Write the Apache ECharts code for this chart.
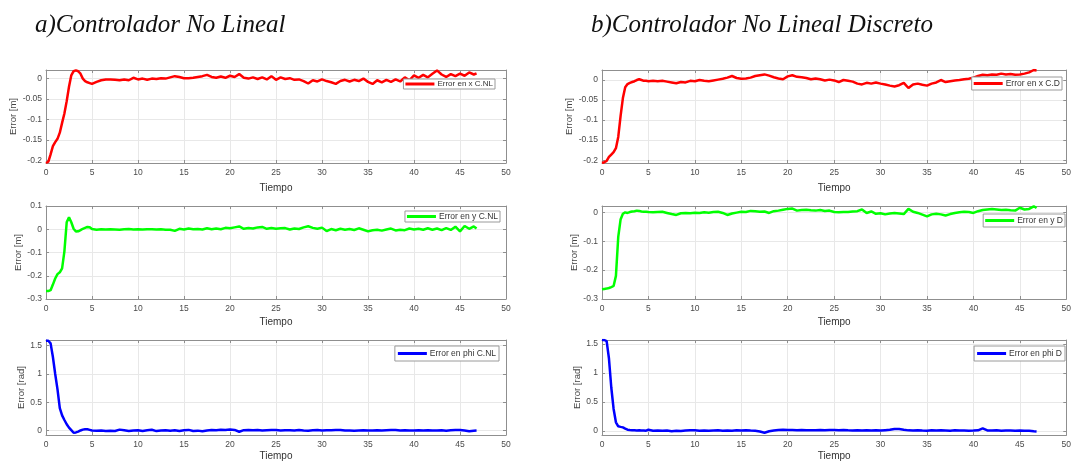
<!DOCTYPE html>
<html>
<head>
<meta charset="utf-8">
<script src="https://cdn.jsdelivr.net/npm/echarts@6/dist/echarts.min.js"></script>
<style>
html,body{margin:0;padding:0;background:#fff;}
#c{width:1074px;height:462px;}
</style>
</head>
<body>
<div id="c"></div>
<script>
// ---- data ----
const T = [0,0.25,0.5,0.75,1,1.25,1.5,1.75,2,2.25,2.5,2.75,3,3.25,3.5,3.75,4,4.25,4.5,4.75,5,
5.5,6,6.5,7,7.5,8,8.5,9,9.5,10,
10.5,11,11.5,12,12.5,13,13.5,14,14.5,15,
15.5,16,16.5,17,17.5,18,18.5,19,19.5,20,
20.5,21,21.5,22,22.5,23,23.5,24,24.5,25,
25.5,26,26.5,27,27.5,28,28.5,29,29.5,30,
30.5,31,31.5,32,32.5,33,33.5,34,34.5,35,
35.5,36,36.5,37,37.5,38,38.5,39,39.5,40,
40.5,41,41.5,42,42.5,43,43.5,44,44.5,45,
45.5,46,46.5,46.8];

const errXNL = [-0.206,-0.203,-0.185,-0.165,-0.155,-0.147,-0.132,-0.108,-0.085,-0.055,-0.02,0.008,0.018,0.02,0.018,0.012,0.0,-0.006,-0.009,-0.011,-0.013,
-0.008,-0.004,-0.002,-0.002,-0.003,-0.004,-0.002,-0.004,0.002,-0.002,
0.000,-0.003,0.000,-0.001,0.001,0.000,0.003,0.006,0.004,0.001,
0.001,0.002,0.004,0.006,0.009,0.004,0.002,0.005,0.002,0.007,
0.004,0.011,0.002,0.000,0.003,-0.001,0.003,-0.002,0.006,-0.003,
0.003,-0.001,0.001,-0.003,-0.002,-0.006,-0.012,-0.004,-0.007,-0.002,
-0.006,-0.009,-0.013,-0.006,-0.003,-0.007,-0.003,-0.006,0.000,-0.008,
-0.013,-0.004,-0.009,-0.003,-0.008,-0.002,-0.007,0.003,-0.004,0.008,
0.002,0.009,0.003,0.012,0.020,0.010,0.004,0.011,0.006,0.012,
0.007,0.015,0.010,0.013];

const errXD = [-0.207,-0.205,-0.202,-0.192,-0.186,-0.180,-0.170,-0.142,-0.090,-0.045,-0.018,-0.010,-0.007,-0.005,-0.003,0.000,0.002,0.000,-0.002,-0.002,-0.003,
-0.002,-0.003,-0.002,-0.004,-0.006,-0.008,-0.005,-0.006,-0.002,-0.003,
0.000,-0.002,-0.003,-0.001,0.001,0.003,0.006,0.010,0.005,0.003,
0.004,0.006,0.010,0.012,0.014,0.011,0.007,0.004,0.002,0.009,
0.012,0.008,0.007,0.005,0.002,0.004,0.002,-0.001,0.001,-0.001,
-0.005,0.000,-0.002,-0.004,-0.009,-0.011,-0.007,-0.009,-0.006,-0.009,
-0.011,-0.014,-0.016,-0.013,-0.007,-0.020,-0.011,-0.009,-0.012,-0.014,
-0.009,-0.006,0.000,-0.005,-0.003,-0.001,0.000,0.002,0.003,0.006,
0.010,0.013,0.012,0.014,0.013,0.016,0.014,0.015,0.013,0.014,
0.016,0.019,0.025,0.024];

const errYNL = [-0.266,-0.266,-0.262,-0.238,-0.212,-0.193,-0.185,-0.168,-0.095,0.030,0.052,0.030,0.002,-0.010,-0.009,-0.004,0.002,0.006,0.010,0.009,0.001,
-0.002,0.000,-0.001,0.000,-0.001,-0.002,0.000,0.001,-0.001,0.000,
-0.001,0.000,0.000,-0.001,0.000,-0.002,-0.002,-0.007,0.002,-0.001,
0.003,0.000,0.001,-0.001,0.004,0.000,0.003,0.000,0.006,0.004,
0.008,0.012,0.002,0.005,0.003,0.008,0.010,0.002,0.005,0.002,
0.004,0.005,-0.001,0.003,0.001,0.008,0.013,0.006,0.002,0.007,
-0.008,0.001,-0.004,0.002,-0.002,0.001,-0.003,0.004,-0.002,-0.009,
-0.004,-0.002,-0.006,-0.001,0.003,-0.005,-0.002,-0.004,0.003,-0.001,
0.002,-0.002,0.004,-0.002,0.003,-0.004,0.005,-0.003,0.011,-0.009,
0.014,0.002,0.012,0.003];

const errYD = [-0.266,-0.265,-0.264,-0.262,-0.259,-0.255,-0.220,-0.085,-0.025,-0.005,0.000,-0.002,0.001,0.003,0.004,0.006,0.005,0.003,0.002,0.002,0.001,
0.000,0.001,0.002,-0.002,-0.006,-0.009,-0.003,-0.002,-0.003,-0.001,
-0.002,0.000,-0.001,0.001,0.002,-0.002,-0.009,-0.004,-0.001,0.002,
0.001,0.005,0.004,0.002,0.003,-0.002,0.004,0.006,0.009,0.012,
0.013,0.006,0.008,0.009,0.007,0.006,0.008,0.005,0.006,0.001,
0.000,0.001,0.001,0.003,0.004,0.010,-0.002,0.003,-0.005,-0.003,
-0.007,-0.004,-0.002,-0.004,-0.006,0.012,0.002,-0.002,-0.008,-0.014,
-0.007,-0.005,-0.007,-0.011,-0.006,-0.002,0.000,0.002,0.001,-0.002,
0.004,0.008,0.010,0.012,0.010,0.008,0.009,0.007,0.006,0.016,
0.010,0.012,0.021,0.015];

const errPhiNL = [1.587,1.587,1.540,1.300,1.000,0.730,0.400,0.270,0.190,0.115,0.055,0.010,-0.035,-0.030,-0.015,0.005,0.020,0.028,0.025,0.015,0.005,
0.000,0.005,-0.005,0.002,-0.004,0.020,0.008,-0.005,0.005,0.010,
-0.003,0.008,0.018,-0.006,0.004,0.010,0.002,0.008,-0.004,0.010,
0.015,-0.005,0.002,-0.008,0.006,0.015,0.010,0.018,0.012,0.020,
0.015,-0.018,0.010,0.015,0.008,0.012,0.005,0.010,0.015,0.012,
0.005,0.010,0.008,0.003,0.012,0.006,0.002,0.008,0.012,0.005,
0.010,0.008,0.012,0.015,0.004,0.006,0.002,0.005,0.008,0.003,
0.006,0.010,0.004,0.008,0.012,0.015,0.006,0.008,0.003,0.005,
0.010,0.004,0.008,0.003,0.006,0.010,0.002,0.008,0.012,0.015,
0.004,-0.008,0.000,0.003];

const errPhiD = [1.570,1.570,1.550,1.250,0.750,0.380,0.150,0.080,0.070,0.062,0.040,0.022,0.015,0.012,0.010,0.008,0.010,0.006,0.009,0.005,0.020,
0.004,0.008,0.002,0.006,-0.005,0.003,-0.002,0.006,0.010,0.012,
0.004,0.008,0.002,0.006,0.010,0.004,0.008,0.003,0.012,0.006,
0.014,0.008,0.003,-0.010,-0.030,-0.005,0.008,0.015,0.020,0.018,
0.015,0.012,0.016,0.010,0.014,0.012,0.015,0.010,0.016,0.018,
0.012,0.015,0.010,0.006,0.012,0.008,0.010,0.006,0.012,0.008,
0.014,0.020,0.035,0.032,0.020,0.010,0.006,0.012,0.008,0.005,
0.010,0.006,0.012,0.008,0.004,0.010,0.006,0.008,0.004,0.006,
0.010,0.045,0.008,0.006,0.010,0.004,0.008,0.006,0.003,0.008,
0.004,0.002,-0.005,-0.008];

const seriesNames = ['Error en x C.NL','Error en x C.D','Error en y C.NL','Error en y D','Error en phi C.NL','Error en phi D'];
const seriesData = [errXNL, errXD, errYNL, errYD, errPhiNL, errPhiD];
const yNames = ['Error [m]','Error [m]','Error [m]','Error [m]','Error [rad]','Error [rad]'];
const xName = 'Tiempo';
const titles = ['a)Controlador No Lineal','b)Controlador No Lineal Discreto'];

// ---- layout / style ----
const SANS = 'Liberation Sans, Arial, sans-serif';
const BOX = '#8f8f8f';
const LBL = '#4a4a4a';
const colors = ['#ff0000','#ff0000','#00ff00','#00ff00','#0000ff','#0000ff'];
const grids = [
  {left:46, top:70, width:460, height:93},
  {left:602, top:70, width:468, height:93},
  {left:46, top:206, width:460, height:93},
  {left:602, top:206, width:468, height:93},
  {left:46, top:340, width:460, height:96},
  {left:602, top:340, width:468, height:96}
];
const yCfg = [
  {min:-0.206, max:0.021, splitNumber:5, sMin:false, sMax:false, gap:25},
  {min:-0.207, max:0.025, splitNumber:5, sMin:false, sMax:false, gap:25},
  {min:-0.3, max:0.1, interval:0.1, sMin:true, sMax:true, gap:21},
  {min:-0.3, max:0.022, interval:0.1, sMin:true, sMax:false, gap:21},
  {min:-0.075, max:1.6, splitNumber:3, sMin:false, sMax:false, gap:17},
  {min:-0.07, max:1.57, splitNumber:3, sMin:false, sMax:false, gap:18}
];
const legCfg = [
  {right:579, top:79, fs:8, pad:[1,2,1,2]},
  {right:12, top:77, fs:8.5, pad:[2,2,2,2]},
  {right:574, top:211, fs:8.5, pad:[1,2,1,2]},
  {right:9, top:214, fs:8.5, pad:[2,2,2,2]},
  {right:575, top:346, fs:8.5, pad:[3,3,3,3]},
  {right:9, top:346, fs:8.5, pad:[3,3,3,3]}
];
const xGap = [20, 20, 18, 18, 16, 16];

const xAxis = [], yAxis = [], series = [], legend = [];
grids.forEach((g, i) => {
  const yc = yCfg[i];
  xAxis.push({
    type:'value', gridIndex:i, min:0, max:50, interval:5, position:'bottom',
    name:xName, nameLocation:'middle', nameGap:xGap[i],
    nameTextStyle:{fontFamily:SANS, fontSize:10, color:'#333'},
    axisLine:{show:true, onZero:false, lineStyle:{color:BOX, width:1}},
    axisTick:{show:true, inside:true, length:3, lineStyle:{color:BOX}},
    axisLabel:{fontFamily:SANS, fontSize:8.5, color:LBL, margin:5},
    splitLine:{show:true, lineStyle:{color:'#e8e8e8', width:1}}
  });
  xAxis.push({
    type:'value', gridIndex:i, min:0, max:50, interval:5, position:'top',
    axisLine:{show:true, onZero:false, lineStyle:{color:BOX, width:1}},
    axisTick:{show:true, inside:true, length:3, lineStyle:{color:BOX}},
    axisLabel:{show:false}, splitLine:{show:false}
  });
  const yBase = {type:'value', gridIndex:i, min:yc.min, max:yc.max};
  if (yc.interval) yBase.interval = yc.interval; else yBase.splitNumber = yc.splitNumber;
  yAxis.push(Object.assign({}, yBase, {
    position:'left',
    name:yNames[i], nameLocation:'middle', nameGap:yc.gap, nameRotate:90,
    nameTextStyle:{fontFamily:SANS, fontSize:9.5, color:'#444'},
    axisLine:{show:true, onZero:false, lineStyle:{color:BOX, width:1}},
    axisTick:{show:true, inside:true, length:3, lineStyle:{color:BOX}},
    axisLabel:{fontFamily:SANS, fontSize:8.5, color:LBL, margin:4,
      showMinLabel:yc.sMin, showMaxLabel:yc.sMax},
    splitLine:{show:true, lineStyle:{color:'#e8e8e8', width:1}}
  }));
  yAxis.push(Object.assign({}, yBase, {
    position:'right',
    axisLine:{show:true, onZero:false, lineStyle:{color:BOX, width:1}},
    axisTick:{show:true, inside:true, length:3, lineStyle:{color:BOX}},
    axisLabel:{show:false}, splitLine:{show:false}
  }));
  const vals = seriesData[i];
  series.push({
    type:'line', name:seriesNames[i], xAxisIndex:2*i, yAxisIndex:2*i,
    data:T.map((t, k) => [t, vals[k]]),
    showSymbol:false, symbol:'none', smooth:false,
    lineStyle:{color:colors[i], width:2.5}, itemStyle:{color:colors[i]},
    z:3
  });
  const lc = legCfg[i];
  legend.push({
    data:[{name:seriesNames[i], icon:'rect'}], right:lc.right, top:lc.top, orient:'horizontal',
    padding:lc.pad, itemWidth:29, itemHeight:3, itemGap:0,
    itemStyle:{color:colors[i], borderWidth:0},
    backgroundColor:'#fff', borderColor:'#9a9a9a', borderWidth:1, borderRadius:0,
    textStyle:{fontFamily:SANS, fontSize:lc.fs, color:'#333', padding:[0,0,0,-2]},
    selectedMode:false
  });
});

const chart = echarts.init(document.getElementById('c'), null, {renderer:'canvas'});
chart.setOption({
  animation:false,
  backgroundColor:'#fff',
  title:[
    {text:titles[0], left:35, top:13, padding:0,
     textStyle:{fontFamily:'Liberation Serif, Times New Roman, serif', fontStyle:'italic', fontWeight:'normal', fontSize:25, color:'#111'}},
    {text:titles[1], left:591, top:13, padding:0,
     textStyle:{fontFamily:'Liberation Serif, Times New Roman, serif', fontStyle:'italic', fontWeight:'normal', fontSize:25, color:'#111'}}
  ],
  grid:grids,
  xAxis:xAxis,
  yAxis:yAxis,
  legend:legend,
  series:series
});
</script>
</body>
</html>
